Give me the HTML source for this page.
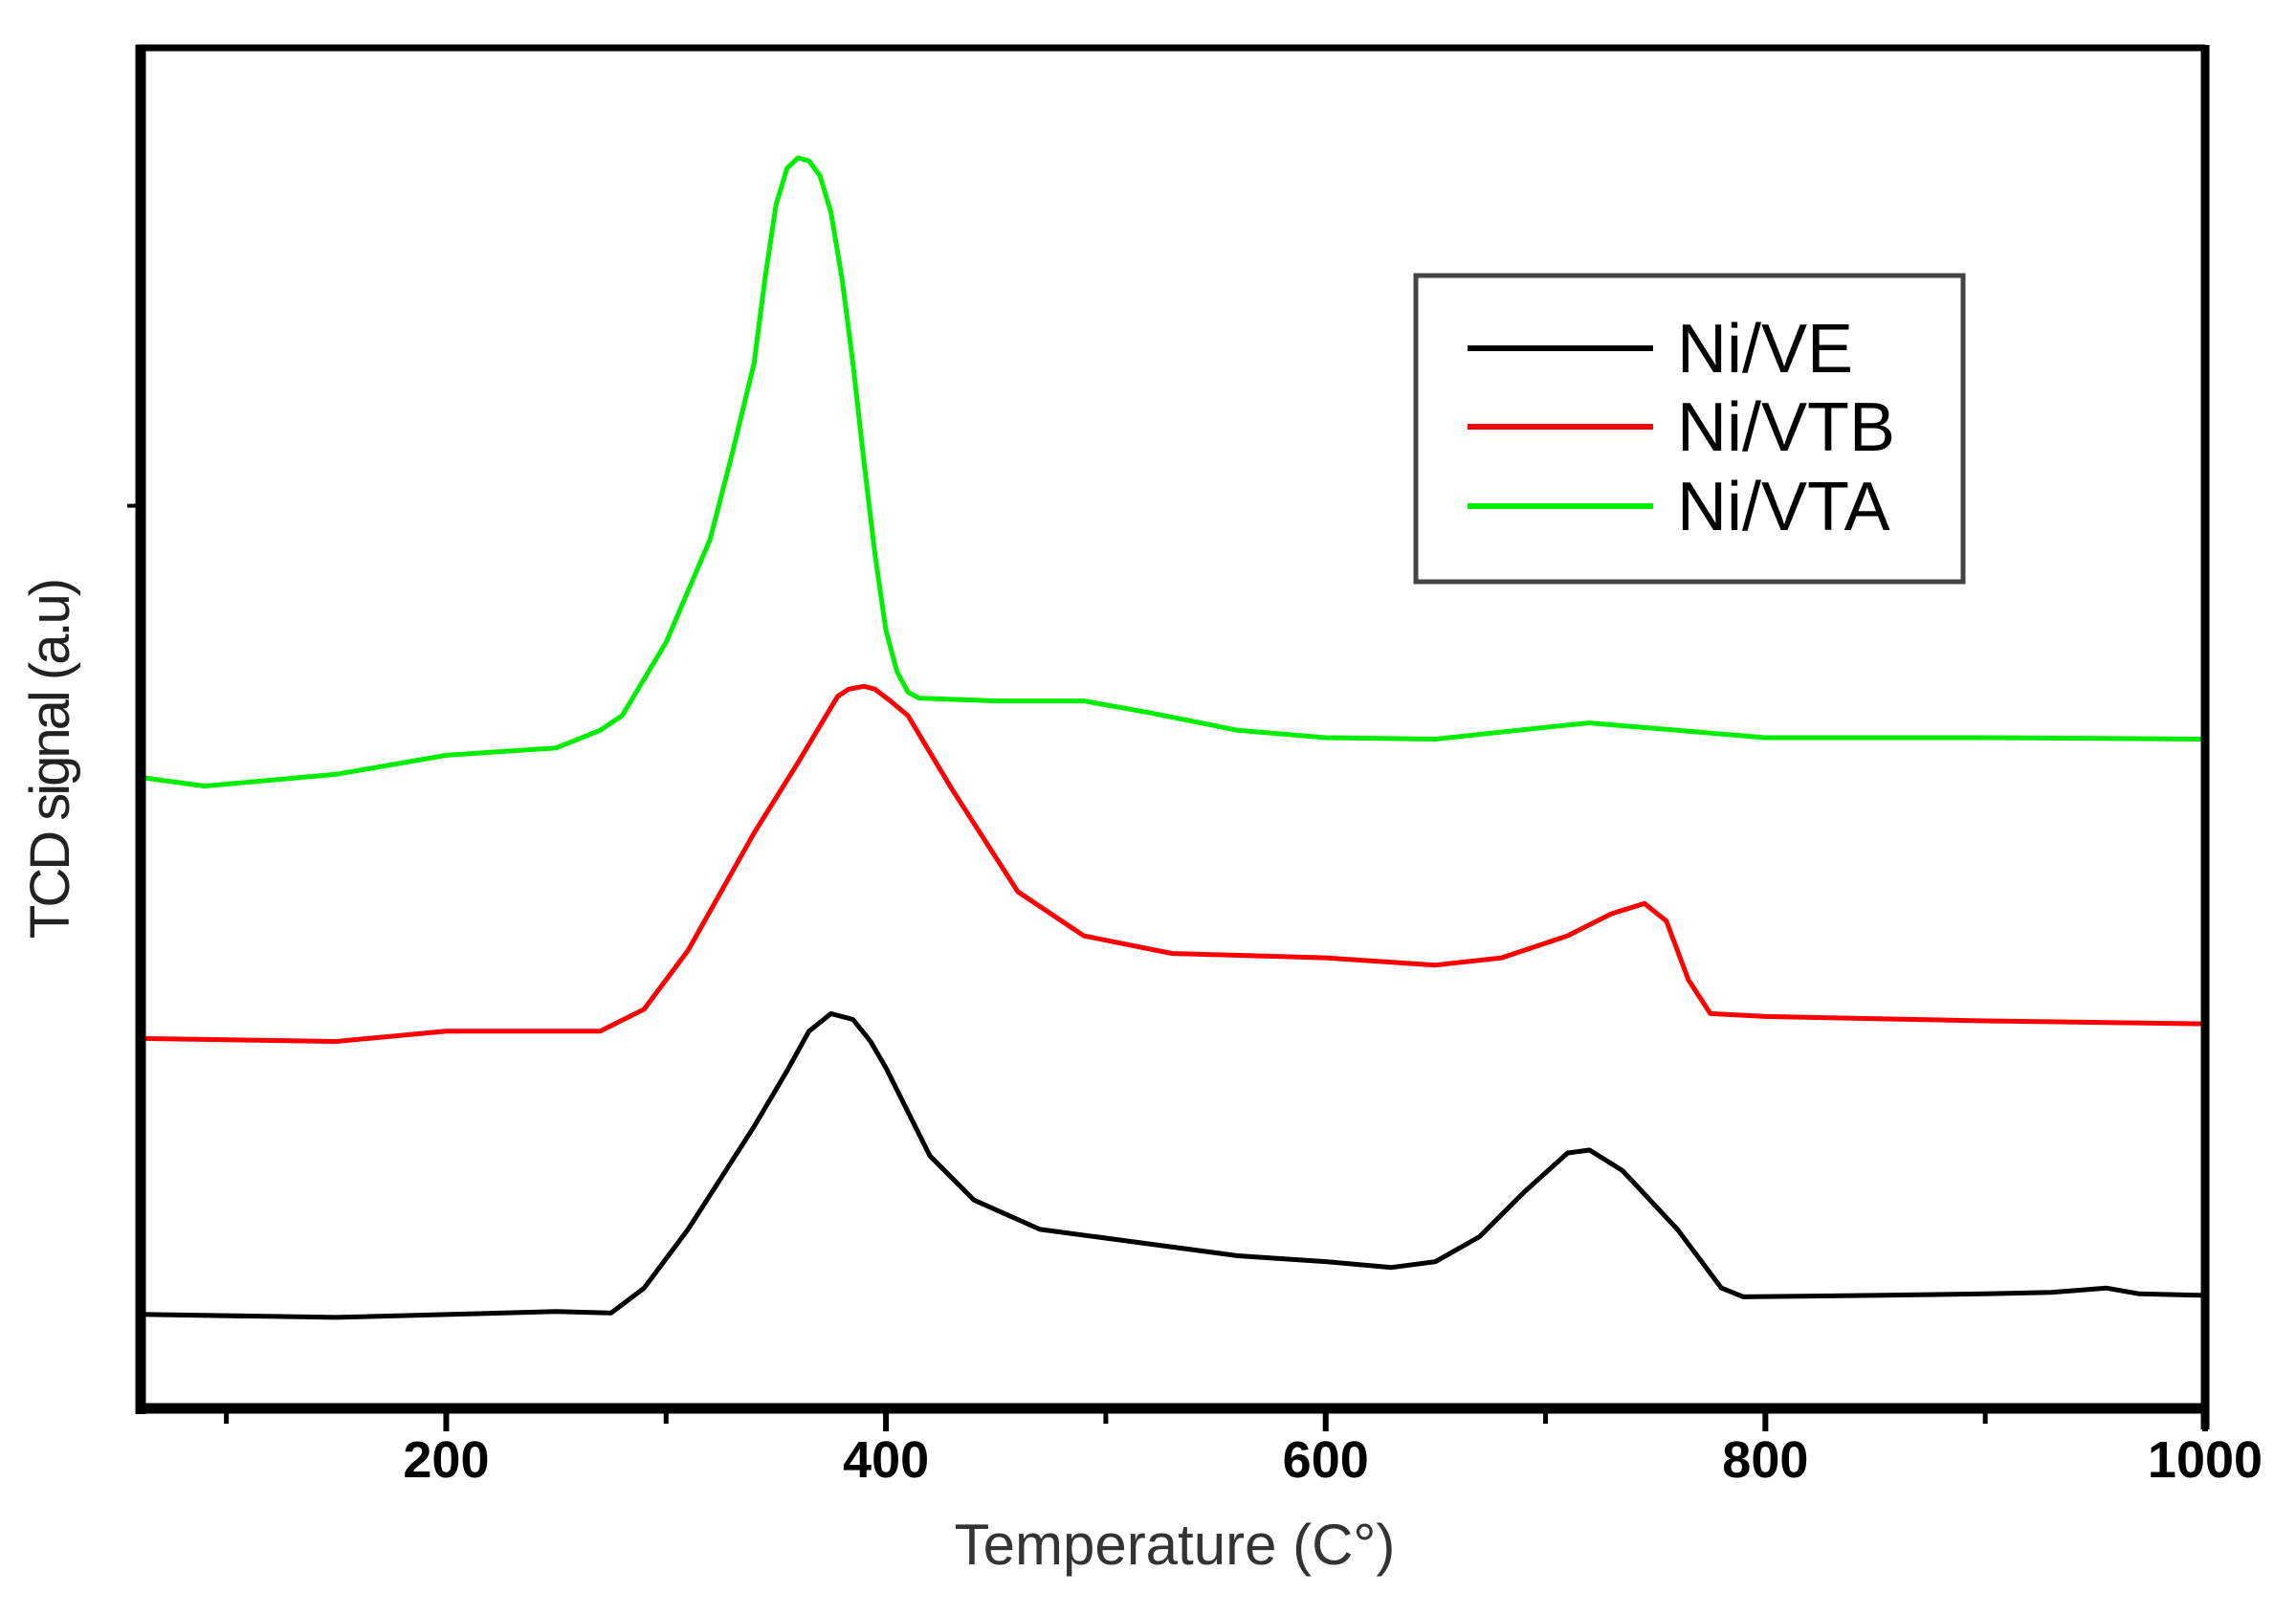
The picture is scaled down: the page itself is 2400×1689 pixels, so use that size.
<!DOCTYPE html>
<html><head><meta charset="utf-8"><style>
html,body{margin:0;padding:0;background:#fff}
svg{display:block}
text{font-family:"Liberation Sans",sans-serif}
</style></head><body>
<svg id="chart" width="2400" height="1689" viewBox="0 0 2400 1689" xmlns="http://www.w3.org/2000/svg">
<g id="plot"></g>
<g id="axes"></g>
<text x="1228" y="1635" font-size="60" fill="#333" text-anchor="middle">Temperature (C°)</text>
<text transform="translate(72,794) rotate(-90)" font-size="58" fill="#222" text-anchor="middle" letter-spacing="-3">TCD signal (a.u)</text>
<g>
<rect x="1480" y="288" width="572" height="320" fill="#fff" stroke="#444" stroke-width="5"/>
<g><line x1="1534" y1="364" x2="1728" y2="364" stroke="#000" stroke-width="6"/><text x="1753" y="389" font-size="72" fill="#000">Ni/VE</text></g>
<g><line x1="1534" y1="446" x2="1728" y2="446" stroke="#ff0000" stroke-width="6"/><text x="1753" y="471" font-size="72" fill="#000">Ni/VTB</text></g>
<g><line x1="1534" y1="529" x2="1728" y2="529" stroke="#00ee00" stroke-width="6"/><text x="1753" y="554" font-size="72" fill="#000">Ni/VTA</text></g>
</g>
</svg>
<script>
const xTicks = [200, 400, 600, 800, 1000];
const xMinorTicks = [100, 300, 500, 700, 900];
const tempVTA = [61,90,150,200,250,270,280,300,320,330,340,345,350,355,360,365,370,375,380,385,390,395,400,405,410,415,450,490,520,560,600,650,700,720,760,800,900,1000];
const sigVTA = [430,424,432,445,450,462,472,522,592,650,712,770,820,845,852,850,840,815,770,712,645,582,530,502,488,484,482,482,474,462,457,456,464,467,462,457,457,456];
const tempVTB = [61,150,200,270,290,310,340,360,370,378,383,390,395,402,410,430,460,490,530,600,650,680,710,730,745,755,765,775,800,900,1000];
const sigVTB = [252,250,257,257,272,312,392,440,465,485,490,492,490,482,472,422,352,322,310,307,302,307,322,337,344,332,292,269,267,264,262];
const tempVE = [61,150,250,275,290,310,340,355,365,375,385,393,400,420,440,470,510,560,600,630,650,670,690,710,720,735,760,780,790,850,900,930,955,970,1000];
const sigVE = [64,62,66,65,82,122,192,230,257,269,265,250,232,172,142,122,114,104,100,96,100,117,147,174,176,162,122,82,76,77,78,79,82,78,77];
const yTickValue = 615;

const NS = "http://www.w3.org/2000/svg";
const L = 147, R = 2305, T = 50, B = 1472;
const xMin = 61, xMax = 1000, yMin = 0, yMax = 927;
function xs(v){ return L + (v - xMin) / (xMax - xMin) * (R - L); }
function ys(v){ return B - (v - yMin) / (yMax - yMin) * (B - T); }
function mk(tag, attrs){ const e = document.createElementNS(NS, tag); for (const k in attrs) e.setAttribute(k, attrs[k]); return e; }

const plot = document.getElementById('plot');
const axes = document.getElementById('axes');
function series(temps, sigs, color, name){
  const d = temps.map((t,i)=>(i?'L':'M')+xs(t).toFixed(1)+','+ys(sigs[i]).toFixed(1)).join(' ');
  const p = mk('path', {d: d, fill:'none', stroke: color, 'stroke-width': 5, 'stroke-linejoin':'round'});
  
  
  plot.appendChild(p);
}
series(tempVE, sigVE, '#000', 'series-ni-ve');
series(tempVTB, sigVTB, '#ff0000', 'series-ni-vtb');
series(tempVTA, sigVTA, '#00ee00', 'series-ni-vta');

const fT = mk('line',{x1:L-5,y1:T,x2:R,y2:T,stroke:'#000','stroke-width':7});   axes.appendChild(fT);
const fR = mk('line',{x1:R,y1:T-3,x2:R,y2:B+22,stroke:'#000','stroke-width':9});   axes.appendChild(fR);
const fL = mk('line',{x1:L,y1:T-3,x2:L,y2:B+6,stroke:'#000','stroke-width':11});   axes.appendChild(fL);
const fB = mk('line',{x1:L-5,y1:B,x2:R,y2:B,stroke:'#000','stroke-width':11});   axes.appendChild(fB);

xTicks.forEach(v=>{
  const t = mk('line',{x1:xs(v),y1:B,x2:xs(v),y2:B+24,stroke:'#000','stroke-width':6});
  
  
  axes.appendChild(t);
  const lb = mk('text',{x:xs(v),y:B+72,'font-size':54,'font-weight':'bold','text-anchor':'middle',fill:'#000'});
  lb.textContent = v;
  
  
  axes.appendChild(lb);
});
xMinorTicks.forEach(v=>{
  const t = mk('line',{x1:xs(v),y1:B,x2:xs(v),y2:B+16,stroke:'#000','stroke-width':5});
  
  
  axes.appendChild(t);
});
const yt = mk('line',{x1:L-14,y1:ys(yTickValue),x2:L,y2:ys(yTickValue),stroke:'#000','stroke-width':4});


axes.appendChild(yt);
</script>
</body></html>
